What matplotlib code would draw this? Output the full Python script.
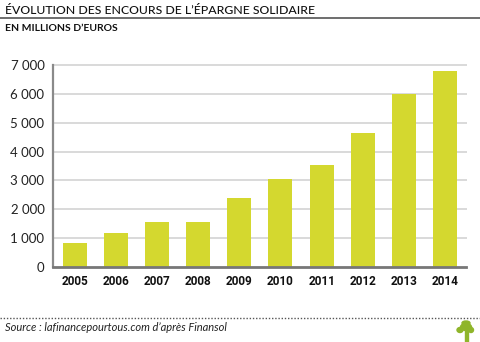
import matplotlib
matplotlib.use("Agg")
import matplotlib.pyplot as plt
from matplotlib.lines import Line2D
from matplotlib.patches import Ellipse, Rectangle

# encours de l'epargne solidaire, en millions d'euros
years = ["2005", "2006", "2007", "2008", "2009", "2010", "2011", "2012", "2013", "2014"]
encours = [820, 1170, 1560, 1560, 2410, 3040, 3530, 4660, 5990, 6800]
yticks = [0, 1000, 2000, 3000, 4000, 5000, 6000, 7000]
ytick_labels = ["0", "1 000", "2 000", "3 000", "4 000", "5 000", "6 000", "7 000"]

bar_col = "#d4d82f"
fig = plt.figure(figsize=(4.8, 3.42), dpi=100)
ax = fig.add_axes([0.110, 0.219, 0.861, 0.591])

x = range(len(years))
ax.bar(x, encours, width=0.58, color=bar_col, zorder=3)
ax.set_xlim(-0.53, 9.51)
ax.set_ylim(0, 7000)
for v in yticks[1:]:
    ax.axhline(v, color="#d9d9d9", lw=1.4, zorder=1, clip_on=False)

ax.set_yticks(yticks)
ax.set_yticklabels(ytick_labels, fontsize=9.5, family="Lato", color="#222222")
ax.set_xticks(list(x))
ax.set_xticklabels(years, fontsize=8.5, family="Roboto", fontweight="bold", color="#111111")
ax.tick_params(axis="both", length=0)
ax.tick_params(axis="y", pad=6)
ax.tick_params(axis="x", pad=6)
for s in ["top", "right"]:
    ax.spines[s].set_visible(False)
ax.spines["left"].set_color("#8a8a8a")
ax.spines["left"].set_linewidth(1.6)
ax.spines["bottom"].set_color("#777777")
ax.spines["bottom"].set_linewidth(2)
ax.spines["bottom"].set_zorder(4)

# titre et sous-titre
fig.text(5/480, 1 - 14/342, "ÉVOLUTION DES ENCOURS DE L’ÉPARGNE SOLIDAIRE", fontsize=8.8,
         family="Lato", fontweight="medium", color="#111111", va="baseline")
fig.add_artist(Line2D([0, 1], [1 - 17.5/342] * 2, color="#555555", lw=1.2))
fig.text(5/480, 1 - 31/342, "EN MILLIONS D’EUROS", fontsize=7.5, family="Lato",
         fontweight="bold", color="#111111", va="baseline")

# pied de page
fig.add_artist(Line2D([0, 1], [1 - 318/342] * 2, color="#555555", lw=1, ls=(0, (1, 1.3))))
fig.text(5/480, 1 - 331/342, "Source : lafinancepourtous.com d’après Finansol", fontsize=8,
         family="Lato", style="italic", color="#222222", va="baseline")

# petit arbre
tree = "#8fb52a"
fig.add_artist(Rectangle((464.5/480, 1 - 342/342), 3/480, 13/342, color=tree, transform=fig.transFigure))
for cx, cy, w, h in [(466, 327, 11, 7), (460, 330, 6, 5), (471, 330, 5, 5), (466, 323, 8, 4)]:
    fig.add_artist(Ellipse((cx/480, 1 - cy/342), w/480, h/342, color=tree, transform=fig.transFigure))

fig.savefig("out.png", dpi=100)
